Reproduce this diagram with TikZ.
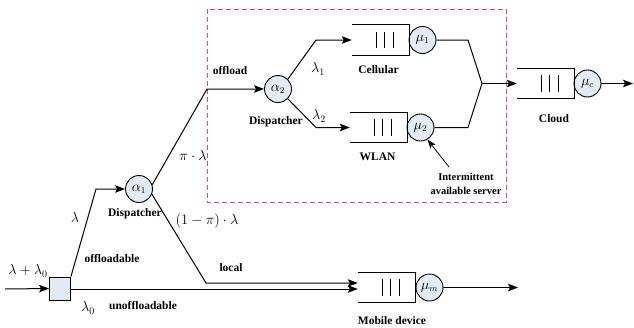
\documentclass[tikz,border=0pt]{standalone}
\usepackage{fontspec}
\setmainfont{Liberation Serif}
\usetikzlibrary{arrows.meta}
\definecolor{srvfill}{HTML}{E3EAF4}
\definecolor{boxpink}{HTML}{E8407E}
\tikzset{
  flow/.style={line width=1pt},
  arr/.style={flow,-{Stealth[length=10pt,width=7.5pt,inset=2pt]}},
  server/.style={circle,draw,line width=0.9pt,fill=srvfill,minimum size=27pt,inner sep=0pt,font=\fontsize{13.5}{15}\selectfont},
  splitter/.style={rectangle,draw,line width=0.9pt,fill=srvfill,minimum width=21pt,minimum height=23pt,inner sep=0pt},
  lbl/.style={font=\fontsize{11.5}{13}\selectfont\bfseries,inner sep=0pt},
  mlbl/.style={font=\fontsize{14}{16}\selectfont,inner sep=0pt},
  qbox/.style={rectangle,minimum width=57pt,minimum height=30pt,inner sep=0pt}
}
% open-ended queue: top, right and bottom sides plus three waiting slots
\newcommand\drawqueue[1]{%
  \draw[flow] (#1.north west) -- (#1.north east) -- (#1.south east) -- (#1.south west);
  \foreach \dx in {-33,-25,-16}
    \draw[line width=0.9pt] ([xshift=\dx pt,yshift=-7pt]#1.north east) -- ([xshift=\dx pt,yshift=7pt]#1.south east);
}
\begin{document}
\begin{tikzpicture}[x=1pt,y=-1pt]
\useasboundingbox (0,0) rectangle (634,327);

% offloading region
\draw[boxpink,line width=1pt,dash pattern=on 5pt off 3pt] (207,9) rectangle (506,202);

% nodes
\coordinate (in) at (5,289);
\node[splitter] (sq) at (60,288.5) {};
\node[server] (a1) at (139,189) {$\alpha_1$};
\node[server] (a2) at (278,89) {$\alpha_2$};
\node[qbox] (qc) at (380.5,40) {};
\node[server] (mu1) at (422.5,40) {$\mu_1$};
\node[qbox] (qw) at (378.5,127.5) {};
\node[server] (mu2) at (420.5,127.5) {$\mu_2$};
\node[qbox] (qcl) at (545.5,83.5) {};
\node[server] (muc) at (587.5,83.5) {$\mu_c$};
\node[qbox] (qm) at (386.5,287.5) {};
\node[server] (mum) at (429.5,287.5) {$\mu_m$};
\drawqueue{qc}
\drawqueue{qw}
\drawqueue{qcl}
\drawqueue{qm}

% corner points of the routes
\coordinate (b1) at (96,189);
\coordinate (off) at (207,89);
\coordinate (loc) at (206,283);
\coordinate (c1) at (316,40);
\coordinate (w1) at (316,127.5);
\coordinate (c2) at (468,40);
\coordinate (w2) at (468,127.5);
\coordinate (mg) at (482,83.5);
\coordinate (outc) at (633,83.5);
\coordinate (outm) at (518,287.5);
\coordinate (note) at (449,167);

% connectors
\draw[arr] (in) -- (sq.west);
\draw[arr] (sq.north east) -- (b1) -- (a1.west);
\draw[arr] (sq.east |- 0,289) -- (qm.west |- 0,289);
\draw[arr] (a1.-22) -- (loc) -- (qm.west |- loc);
\draw[arr] (a1.18) -- (off) -- (a2.west);
\draw[arr] (a2.45) -- (c1) -- (qc.west);
\draw[arr] (a2.-45) -- (w1) -- (qw.west);
\draw[flow] (mu1.east) -- (c2) -- (mg);
\draw[flow] (mu2.east) -- (w2) -- (mg);
\draw[arr] (mg) -- (qcl.west);
\draw[arr] (muc.east) -- (outc);
\draw[arr] (mum.east) -- (outm);
\draw[line width=0.8pt,-{Stealth[length=9pt,width=6.5pt,inset=2pt]}] (note) -- (mu2.-60);

% labels
\node[mlbl] at (28,271) {$\lambda+\lambda_0$};
\node[mlbl] at (75,217) {$\lambda$};
\node[lbl] at (112,259) {offloadable};
\node[mlbl] at (88,308) {$\lambda_0$};
\node[lbl] at (143,306) {unoffloadable};
\node[lbl] at (135,214) {Dispatcher};
\node[mlbl] at (207,221) {$(1-\pi)\cdot\lambda$};
\node[lbl] at (231,268) {local};
\node[mlbl] at (193,155) {$\pi\cdot\lambda$};
\node[lbl] at (230,71) {offload};
\node[lbl] at (276,122) {Dispatcher};
\node[mlbl] at (318,69) {$\lambda_1$};
\node[mlbl] at (319,116) {$\lambda_2$};
\node[lbl] at (378.5,70) {Cellular};
\node[lbl] at (377.5,157) {WLAN};
\node[lbl,align=center,font=\fontsize{10.5}{14}\selectfont\bfseries] at (466,184) {Intermittent\\available server};
\node[lbl] at (554,119) {Cloud};
\node[lbl] at (392,320.5) {Mobile device};
\end{tikzpicture}
\end{document}
